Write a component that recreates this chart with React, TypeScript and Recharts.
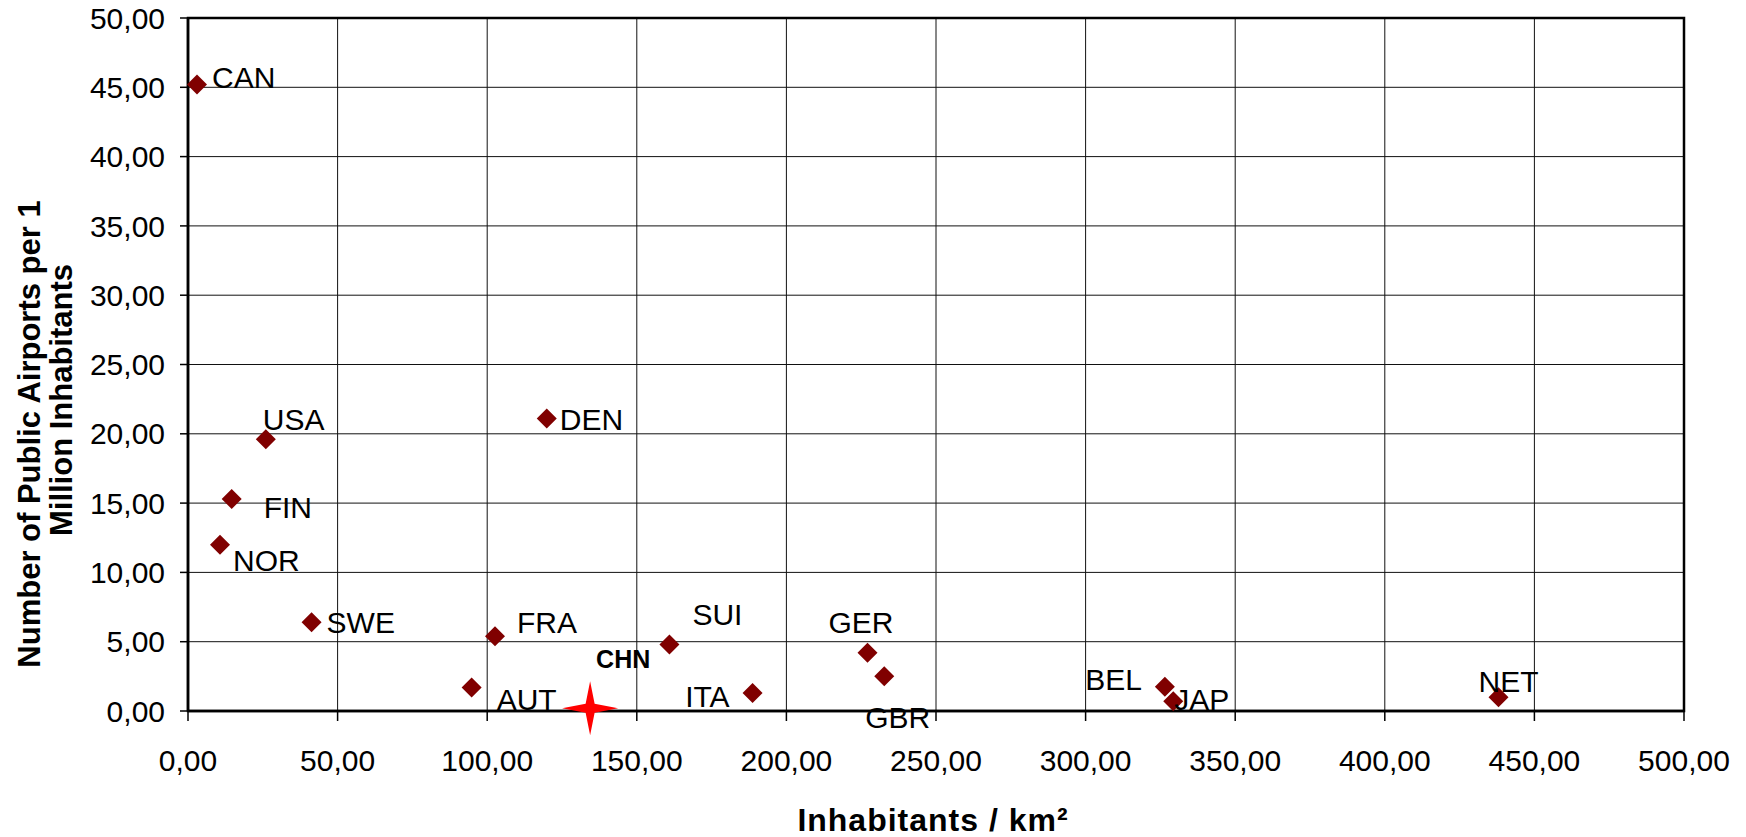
import React from "react";
import {
  ScatterChart,
  Scatter,
  XAxis,
  YAxis,
  CartesianGrid,
  ReferenceArea,
} from "recharts";

const countries = ["CAN", "USA", "FIN", "NOR", "SWE", "DEN", "FRA", "AUT", "SUI", "ITA", "GER", "GBR", "BEL", "JAP", "NET"];
const density = [3.0, 26.0, 14.6, 10.7, 41.3, 119.9, 102.6, 94.8, 160.9, 188.7, 227.1, 232.7, 326.5, 329.3, 438.0];
const airports = [45.2, 19.6, 15.3, 12.0, 6.4, 21.1, 5.4, 1.7, 4.8, 1.3, 4.2, 2.5, 1.75, 0.7, 1.0];

const chinaName = ["CHN"];
const chinaDensity = [134.4];
const chinaAirports = [0.2];

const xTicks = [0, 50, 100, 150, 200, 250, 300, 350, 400, 450, 500];
const yTicks = [0, 5, 10, 15, 20, 25, 30, 35, 40, 45, 50];

const points = countries.map((name, i) => ({ name, x: density[i], y: airports[i] }));
const china = chinaName.map((name, i) => ({ name, x: chinaDensity[i], y: chinaAirports[i] }));

// label placement relative to the marker: dx, dy (baseline), anchor
const labelPos: Record<string, [number, number, "start" | "end"]> = {
  CAN: [15, 3, "start"],
  USA: [-3, -9, "start"],
  FIN: [32, 19, "start"],
  NOR: [13, 26, "start"],
  SWE: [15, 11, "start"],
  DEN: [13, 11, "start"],
  FRA: [22, -3, "start"],
  AUT: [25, 23, "start"],
  SUI: [23, -19, "start"],
  ITA: [-23, 14, "end"],
  GER: [-39, -20, "start"],
  GBR: [-19, 52, "start"],
  BEL: [-23, 3, "end"],
  JAP: [1, 9, "start"],
  NET: [-20, -5, "start"],
};

const FONT = "'Liberation Sans', Arial, sans-serif";
const fmt = (v: number) => v.toFixed(2).replace(".", ",");

const Diamond = (props: any) => {
  const { cx, cy, payload } = props;
  const r = 10;
  const [dx, dy, anchor] = labelPos[payload.name] || [12, 0, "start"];
  return (
    <g>
      <path
        d={`M${cx},${cy - r} L${cx + r},${cy} L${cx},${cy + r} L${cx - r},${cy} Z`}
        fill="#800000"
      />
      <text x={cx + dx} y={cy + dy} textAnchor={anchor} fontSize={30} fontFamily={FONT} fill="#000">
        {payload.name}
      </text>
    </g>
  );
};

const Star = (props: any) => {
  const { cx, cy, payload } = props;
  const rx = 28;
  const ry = 27;
  const w = 4.5;
  const d = `M${cx},${cy - ry} L${cx + w},${cy - w} L${cx + rx},${cy} L${cx + w},${cy + w} L${cx},${cy + ry} L${cx - w},${cy + w} L${cx - rx},${cy} L${cx - w},${cy - w} Z`;
  return (
    <g>
      <path d={d} fill="#ff0000" />
      <text x={cx + 6} y={cy - 40} fontSize={25} fontWeight="bold" fontFamily={FONT} fill="#000">
        {payload.name}
      </text>
    </g>
  );
};

export default function App() {
  return (
    <div style={{ position: "absolute", left: 0, top: 0, background: "#fff" }}>
      <ScatterChart width={1746} height={837} margin={{ top: 18, right: 62, left: 0, bottom: 0 }}>
        <CartesianGrid stroke="#111" strokeWidth={1} />
        <XAxis
          type="number"
          dataKey="x"
          domain={[0, 500]}
          ticks={xTicks}
          tickFormatter={fmt}
          height={126}
          tickSize={10}
          tickMargin={29}
          axisLine={{ stroke: "#000", strokeWidth: 2.5 }}
          tickLine={{ stroke: "#000", strokeWidth: 1.5 }}
          tick={{ fill: "#000", fontSize: 30, fontFamily: FONT }}
          interval={0}
        />
        <YAxis
          type="number"
          dataKey="y"
          domain={[0, 50]}
          ticks={yTicks}
          tickFormatter={fmt}
          width={188}
          tickSize={8}
          tickMargin={15}
          axisLine={{ stroke: "#000", strokeWidth: 2.5 }}
          tickLine={{ stroke: "#000", strokeWidth: 1.5 }}
          tick={{ fill: "#000", fontSize: 30, fontFamily: FONT }}
          interval={0}
        />
        <ReferenceArea x1={0} x2={500} y1={0} y2={50} fill="none" fillOpacity={0} stroke="#000" strokeWidth={2.5} />
        <Scatter data={points} shape={(p: any) => <Diamond {...p} />} isAnimationActive={false} />
        <Scatter data={china} shape={(p: any) => <Star {...p} />} isAnimationActive={false} />
        <text
          x={933}
          y={831}
          textAnchor="middle"
          fontSize={32}
          fontWeight="bold"
          fontFamily={FONT}
          letterSpacing={1}
          fill="#000"
        >
          Inhabitants / km²
        </text>
        <text
          x={40}
          y={434}
          transform="rotate(-90, 40, 434)"
          textAnchor="middle"
          fontSize={31}
          fontWeight="bold"
          fontFamily={FONT}
          fill="#000"
        >
          Number of Public Airports per 1
        </text>
        <text
          x={72}
          y={400}
          transform="rotate(-90, 72, 400)"
          textAnchor="middle"
          fontSize={31}
          fontWeight="bold"
          fontFamily={FONT}
          fill="#000"
        >
          Million Inhabitants
        </text>
      </ScatterChart>
    </div>
  );
}
